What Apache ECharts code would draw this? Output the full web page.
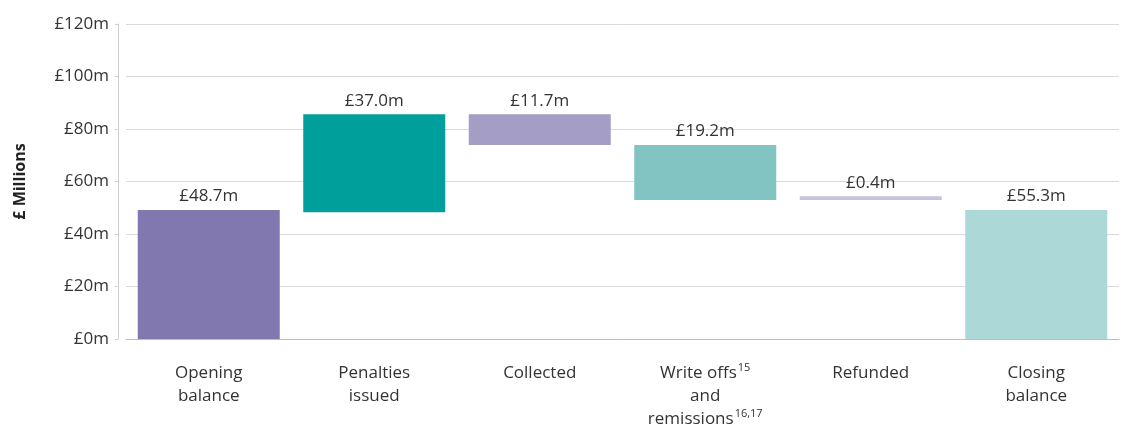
<!DOCTYPE html>
<html><head><meta charset="utf-8">
<script src="https://cdn.jsdelivr.net/npm/echarts@6/dist/echarts.min.js"></script>
<style>html,body{margin:0;padding:0;background:#fff}#c{width:1126px;height:428px}</style>
</head><body><div id="c"></div>
<script>
const categories = ['Opening\nbalance', 'Penalties\nissued', 'Collected', 'Write offs{sup|15}\nand\nremissions{sup|16,17}', 'Refunded', 'Closing\nbalance'];
const barBase = [0, 48.3, 73.9, 53.0, 53.0, 0];
const barHeight = [49.1, 37.3, 11.7, 20.9, 1.4, 49.1];
const barLabels = ['£48.7m', '£37.0m', '£11.7m', '£19.2m', '£0.4m', '£55.3m'];
const barColors = ['#8278b0', '#009f9b', '#a49dc5', '#81c4c2', '#c8c2df', '#acd9d7'];
const yTicks = [0, 20, 40, 60, 80, 100, 120];

const FONT = 'Open Sans';
const chart = echarts.init(document.getElementById('c'), null, {renderer: 'canvas'});
chart.setOption({
  animation: false,
  textStyle: {fontFamily: FONT},
  grid: {left: 126, width: 993, top: 24, bottom: 89, containLabel: false, outerBoundsMode: 'none'},
  xAxis: {
    type: 'category', data: categories,
    axisLine: {lineStyle: {color: '#bdbdbd'}},
    axisTick: {show: false},
    axisLabel: {
      color: '#333', fontSize: 17, fontFamily: FONT, margin: 23, lineHeight: 23, interval: 0,
      rich: {sup: {fontSize: 11, fontFamily: FONT, color: '#333', verticalAlign: 'top', lineHeight: 23, padding: [0, 0, 6, 1]}}
    }
  },
  yAxis: {
    type: 'value', min: 0, max: 120, interval: 20, offset: 8,
    name: '£ Millions', nameLocation: 'middle', nameGap: 90,
    nameTextStyle: {fontSize: 16, fontWeight: 'bold', color: '#222', fontFamily: FONT},
    axisLine: {show: true, lineStyle: {color: '#cfcfcf'}},
    axisTick: {show: true, length: 3, lineStyle: {color: '#cfcfcf'}},
    axisLabel: {color: '#333', fontSize: 17, fontFamily: FONT, margin: 9,
      formatter: v => yTicks.includes(v) ? '£' + v + 'm' : ''},
    splitLine: {lineStyle: {color: '#d9d9d9'}}
  },
  series: [
    {type: 'bar', stack: 'w', data: barBase, barWidth: 142, itemStyle: {color: 'transparent'}, silent: true},
    {type: 'bar', stack: 'w', barWidth: 142,
      data: barHeight.map((v, i) => ({value: v, itemStyle: {color: barColors[i]}})),
      label: {show: true, position: 'top', distance: 5, color: '#333', fontSize: 17, fontFamily: FONT,
        formatter: p => barLabels[p.dataIndex]}}
  ]
});
</script></body></html>
